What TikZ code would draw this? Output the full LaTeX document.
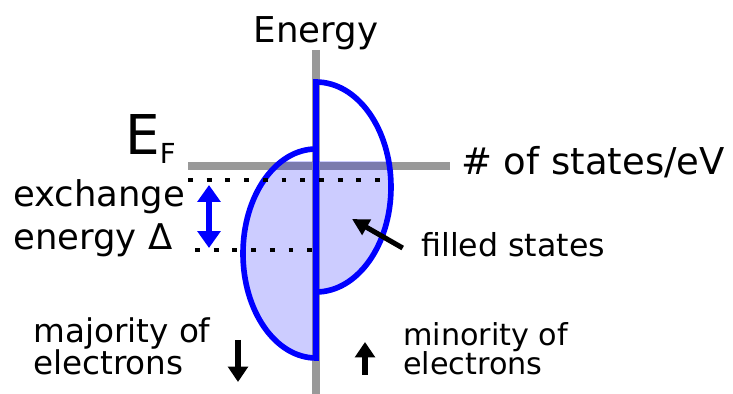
\documentclass[tikz,border=0pt]{standalone}
\usepackage{fontspec}
\setmainfont{DejaVu Sans}
\usetikzlibrary{arrows.meta,positioning}
\definecolor{axisgray}{RGB}{153,153,153}
\definecolor{dosblue}{RGB}{0,0,255}
\tikzset{
  axis/.style={line width=5pt, color=axisgray},
  dosline/.style={line width=4pt, color=dosblue, line join=miter},
  dosfill/.style={fill=dosblue, fill opacity=0.2},
  levelline/.style={line width=3.5pt, dash pattern=on 3.5pt off 9.8pt, color=black},
  spinarrow/.style={line width=3.6pt, -{Triangle[width=14pt,length=11pt]}},
  gaparrow/.style={line width=3.6pt, color=dosblue,
    {Triangle[width=16pt,length=12pt]}-{Triangle[width=16pt,length=12pt]}},
  txt/.style={inner sep=0pt, anchor=base west}
}

\begin{document}
\begin{tikzpicture}[x=0.025cm, y=0.025cm]
  \useasboundingbox (0,0) rectangle (733,-394);

  % axes
  \draw[axis] (316,-50) -- (316,-394);
  \draw[axis] (188,-166) -- (450,-166);

  % filled part of both spin bands (below E_F)
  \begin{scope}
    \clip (150,-162) rectangle (450,-394);
    \fill[dosfill] (316,-82) arc[start angle=90, end angle=-90, x radius=75, y radius=105] -- cycle;
    \fill[dosfill] (316,-149) arc[start angle=90, end angle=270, x radius=73, y radius=104.5] -- cycle;
  \end{scope}

  % band outlines
  \draw[dosline] (316,-292) arc[start angle=-90, end angle=90, x radius=75, y radius=105]
    -- (316,-358) arc[start angle=270, end angle=90, x radius=73, y radius=104.5];

  % exchange splitting
  \coordinate (dtop) at (188,-180);
  \coordinate (dbot) at (195,-250);
  \draw[levelline] (dtop) -- (390,-180);
  \draw[levelline] (dbot) -- (316,-250);
  \draw[gaparrow] (209,-185) -- (209,-248);

  % labels
  \node[txt, anchor=base, font=\fontsize{25.3}{30}\selectfont] (energy) at (316,-43) {Energy};
  \node[txt, font=\fontsize{26.3}{30}\selectfont] (states) at (461,-175) {\# of states/eV};
  \node[txt, font=\fontsize{39}{40}\selectfont] (ef) at (125,-155)
    {E\raisebox{-5.7pt}{\fontsize{19.6}{20}\selectfont F}};
  \node[txt, align=left, font=\fontsize{25.2}{30.6}\selectfont] (exch) at (13,-250)
    {exchange\\energy Δ};
  \node[txt, font=\fontsize{22.5}{27}\selectfont] (filled) at (421,-257) {filled states};
  \coordinate (fillpt) at (352,-219);
  \draw[spinarrow, -{Triangle[width=12pt,length=12pt]}] ([xshift=-13pt,yshift=-2pt]filled.west) -- (fillpt);

  % spin directions
  \node[txt, align=left, font=\fontsize{23.2}{21.3}\selectfont] (major) at (33,-375)
    {majority of\\electrons};
  \node[txt, align=left, font=\fontsize{21.5}{21.3}\selectfont] (minor) at (403,-375)
    {minority of\\electrons};
  \draw[spinarrow] (238,-340) -- (238,-382);
  \draw[spinarrow] (365,-375) -- (365,-342);
\end{tikzpicture}
\end{document}
